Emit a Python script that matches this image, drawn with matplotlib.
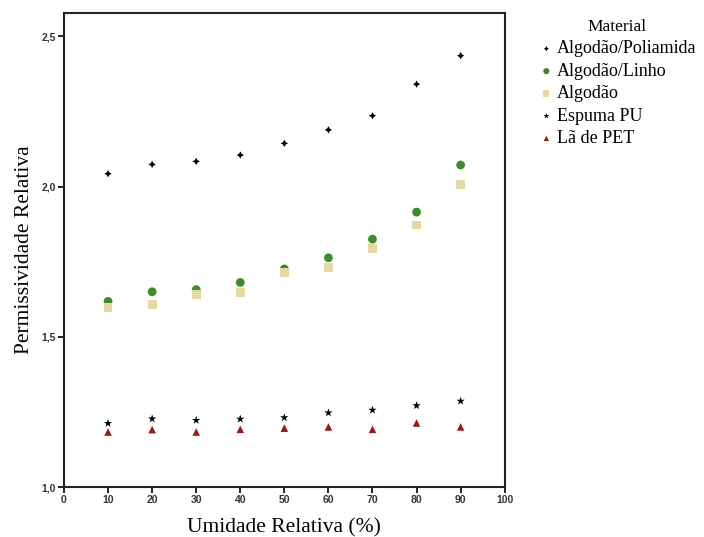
import numpy as np
import matplotlib.pyplot as plt
from matplotlib.ticker import FuncFormatter

umidade = [10, 20, 30, 40, 50, 60, 70, 80, 90]

# valores
poliamida = [2.043, 2.074, 2.084, 2.105, 2.144, 2.189, 2.236, 2.341, 2.436]
linho = [1.618, 1.650, 1.657, 1.681, 1.726, 1.763, 1.825, 1.915, 2.072]
algodao = [1.598, 1.608, 1.642, 1.647, 1.713, 1.731, 1.795, 1.872, 2.006]
espuma_pu = [1.212, 1.227, 1.222, 1.226, 1.231, 1.247, 1.256, 1.271, 1.286]
la_pet = [1.183, 1.191, 1.183, 1.192, 1.196, 1.200, 1.192, 1.213, 1.200]

series = [
    ('Algodão/Poliamida', poliamida, (4, 1, 0), 'black', 28),
    ('Algodão/Linho', linho, 'o', '#3c8c28', 40),
    ('Algodão', algodao, 's', '#e6d8a4', 40),
    ('Espuma PU', espuma_pu, '*', 'black', 40),
    ('Lã de PET', la_pet, '^', '#9a1a1a', 30),
]

fig = plt.figure(figsize=(7.04, 5.37), dpi=100)
ax = fig.add_axes([0.0909, 0.0931, 0.626, 0.8827])

for nome, vals, mk, cor, sz in series:
    ax.scatter(umidade, vals, marker=mk, s=sz, color=cor, edgecolors='none', label=nome)

ax.set_xlim(0, 100)
ax.set_ylim(1.0, 2.578)
ax.set_xticks(range(0, 101, 10))
ax.set_yticks([1.0, 1.5, 2.0, 2.5])
ax.yaxis.set_major_formatter(FuncFormatter(lambda v, p: f'{v:.1f}'.replace('.', ',')))

for s in ax.spines.values():
    s.set_linewidth(1.5)
    s.set_color('#222222')
ax.tick_params(direction='out', length=4, width=1.2, labelsize=7.5,
               labelcolor='#333333', pad=2)
for lab in ax.get_xticklabels() + ax.get_yticklabels():
    lab.set_family('Liberation Sans')
    lab.set_fontweight('bold')

ax.set_xlabel('Umidade Relativa (%)', family='Liberation Serif', fontsize=15.5, labelpad=9)
ax.set_ylabel('Permissividade Relativa', family='Liberation Serif', fontsize=15.5)
ax.yaxis.set_label_coords(-0.068, 0.5)

leg = fig.legend(loc='upper left', bbox_to_anchor=(0.753, 0.978), frameon=False,
                 title='Material', prop={'family': 'Liberation Serif', 'size': 13},
                 handletextpad=0.1, handlelength=1.0, labelspacing=0.3,
                 borderaxespad=0, markerscale=0.7)
leg.get_title().set_family('Liberation Serif')
leg.get_title().set_fontsize(12.5)

fig.savefig('out.png', dpi=100)
